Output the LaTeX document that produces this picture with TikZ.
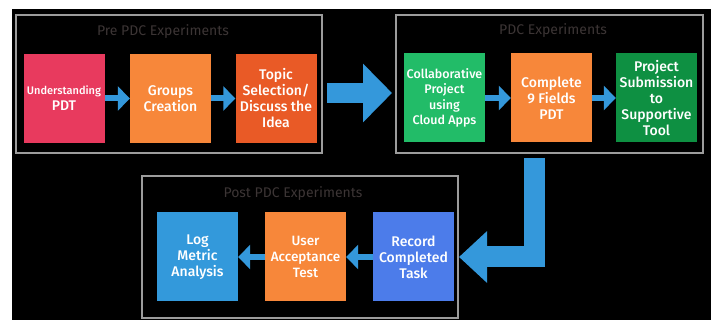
\documentclass[tikz,border=0pt]{standalone}
\usepackage{fontspec}
\setmainfont{Fira Sans}[UprightFont={* Medium}]
\newfontfamily\ttlfont{Fira Sans}
\usetikzlibrary{arrows.meta,calc}
\definecolor{bluearrow}{HTML}{3498DB}
\definecolor{cpink}{HTML}{E83A5E}
\definecolor{corange}{HTML}{F7873A}
\definecolor{cred}{HTML}{E95A26}
\definecolor{cgreen}{HTML}{22BC68}
\definecolor{cdgreen}{HTML}{0E9042}
\definecolor{cblue}{HTML}{3399DB}
\definecolor{cviolet}{HTML}{4C7CEA}
\definecolor{frame}{HTML}{9C9C9C}
\definecolor{ttl}{HTML}{3C3535}
\tikzset{
  stepbox/.style={minimum width=81pt,minimum height=89pt,inner sep=1pt,align=center,text=white,
    font=\fontsize{14}{16}\selectfont},
  grp/.style={draw=frame,line width=1.5pt},
  ttlnode/.style={text=ttl,font=\ttlfont\fontsize{14}{15}\selectfont},
  smallarr/.style={draw=bluearrow,line width=6pt,-{Triangle[width=24pt,length=12pt]}},
  bigarr/.style={draw=bluearrow,line width=20pt,line join=miter,-{Triangle[width=57pt,length=29pt]}},
  bentarr/.style={draw=bluearrow,line width=21pt,line join=miter,-{Triangle[width=50pt,length=28pt]}}
}
\begin{document}
\begin{tikzpicture}[x=1pt,y=-1pt]
\useasboundingbox (0,0) rectangle (715,320);
\fill[white] (0,0) rectangle (715,320);
\fill[black] (12,9) rectangle (711,320);
% group frames
\draw[grp] (16,15) rectangle (322,153);
\draw[grp] (396,15) rectangle (703,153);
\draw[grp] (142,176) rectangle (458,318);
\node[ttlnode] (t1) at (163,32) {Pre PDC Experiments};
\node[ttlnode] (t2) at (553,31) {PDC Experiments};
\node[ttlnode] (t3) at (293,194) {Post PDC Experiments};
% boxes
\node[stepbox,fill=cpink,font=\fontsize{11}{16}\selectfont] (u) at (64,98.5) {Understanding\\\fontsize{14}{16}\selectfont PDT};
\node[stepbox,fill=corange] (g) at (170.5,98.5) {Groups\\Creation};
\node[stepbox,fill=cred] (t) at (276,98.5) {Topic\\Selection/\\Discuss the\\Idea};
\node[stepbox,fill=cgreen,font=\fontsize{12.5}{15.5}\selectfont] (c) at (444.5,98) {Collaborative\\Project\\using\\Cloud Apps};
\node[stepbox,fill=corange] (cp) at (551.5,98) {Complete\\9 Fields\\PDT};
\node[stepbox,fill=cdgreen] (p) at (656.5,98) {Project\\Submission\\to\\Supportive\\Tool};
\node[stepbox,fill=cblue] (l) at (197.5,257) {Log\\Metric\\Analysis};
\node[stepbox,fill=corange,font=\fontsize{13.5}{16}\selectfont] (ua) at (305.5,257) {User\\Acceptance\\Test};
\node[stepbox,fill=cviolet] (r) at (413.5,257) {Record\\Completed\\Task};
% arrows
\draw[smallarr] (u.east) -- (g.west);
\draw[smallarr] (g.east) -- (t.west);
\draw[smallarr] (c.east) -- (cp.west);
\draw[smallarr] (cp.east) -- (p.west);
\draw[smallarr] (r.west) -- (ua.east);
\draw[smallarr] (ua.west) -- (l.east);
\coordinate (ba) at (327,93);
\coordinate (bb) at (392,93);
\draw[bigarr] (ba) -- (bb);
\coordinate (bc) at (534,158);
\coordinate (bd) at (459,257);
\draw[bentarr] (bc) |- (bd);
\end{tikzpicture}
\end{document}
